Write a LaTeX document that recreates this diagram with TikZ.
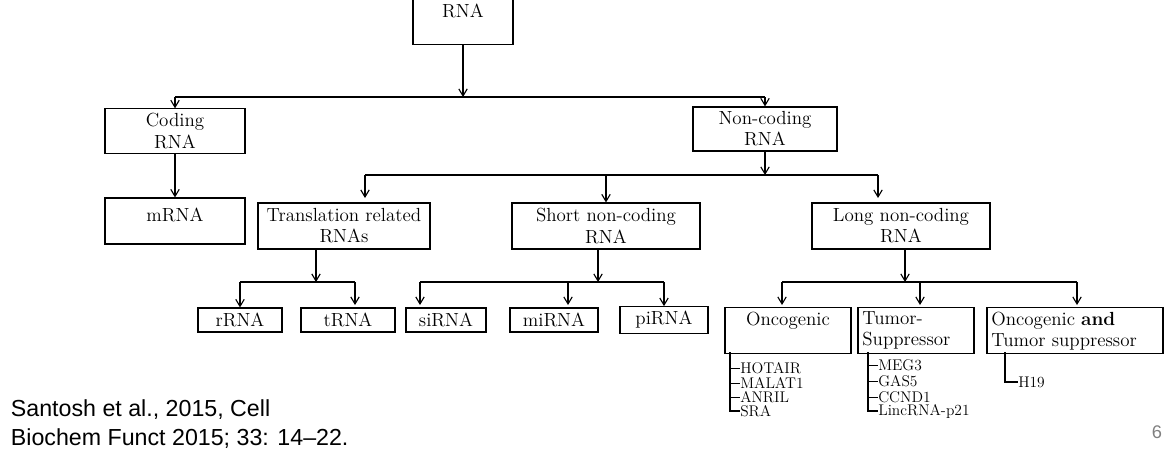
\documentclass[tikz,border=0pt]{standalone}
\usepackage{fontspec}
\newfontfamily\citefont{Liberation Sans}
\usetikzlibrary{arrows.meta}
\begin{document}
\begin{tikzpicture}[x=0.025cm,y=-0.025cm,
	box/.style={draw=black,thick,align=center,font=\fontsize{13.5}{15}\selectfont},
	item/.style={anchor=west,inner sep=0pt,font=\fontsize{11}{11}\selectfont},
	arr/.style={thick,-{Straight Barb[length=5pt,width=6pt]}},
	ln/.style={thick}]
	\useasboundingbox (0,0) rectangle (1170,450);

	\node[box,minimum width=2.5cm,minimum height=1.1cm,text depth=0.55cm] (rna) at (463,22) {RNA};
	\node[box,minimum width=3.5cm,minimum height=1.05cm] (cod) at (175,131) {Coding\\RNA};
	\node[box,minimum width=3.6cm,minimum height=1.05cm] (nc) at (765,129) {Non-coding\\RNA};
	\node[box,minimum width=3.5cm,minimum height=1.15cm,text depth=0.3cm] (mrna) at (175,221) {mRNA};
	\node[box,minimum width=4.3cm,minimum height=1.15cm] (tr) at (344,226) {Translation related\\RNAs};
	\node[box,minimum width=4.7cm,minimum height=1.15cm] (snc) at (606,226) {Short non-coding\\RNA};
	\node[box,minimum width=4.45cm,minimum height=1.15cm] (lnc) at (901,226) {Long non-coding\\RNA};
	\node[box,minimum width=2.1cm,minimum height=0.6cm] (rr) at (240,320) {rRNA};
	\node[box,minimum width=2.35cm,minimum height=0.6cm] (tt) at (348,320) {tRNA};
	\node[box,minimum width=2cm,minimum height=0.6cm] (si) at (446,320) {siRNA};
	\node[box,minimum width=2.2cm,minimum height=0.6cm] (mi) at (554,320) {miRNA};
	\node[box,minimum width=2.2cm,minimum height=0.6cm] (pi) at (664,320) {piRNA};
	\node[box,minimum width=3.15cm,minimum height=1.15cm,anchor=north] (onc) at (788,307) {};
	\node[font=\fontsize{13.5}{15}\selectfont,anchor=north] at (onc.north) {Oncogenic};
	\node[box,minimum width=2.9cm,minimum height=1.15cm,anchor=north] (ts) at (916,307) {};
	\node[font=\fontsize{13.5}{15}\selectfont,align=left,anchor=north west] at (ts.north west) {Tumor-\\Suppressor};
	\node[box,minimum width=4.4cm,minimum height=1.15cm,anchor=north] (both) at (1075,307) {};
	\node[font=\fontsize{13.5}{15}\selectfont,align=left,anchor=north west] at (both.north west) {Oncogenic \textbf{and}\\Tumor suppressor};

	% top level
	\coordinate (j0) at (463,97);
	\draw[arr] (rna) -- (j0);
	\draw[ln] (175,97) -- (765,97);
	\draw[arr] (175,97) -- (cod);
	\draw[arr] (765,97) -- (nc);
	\draw[arr] (cod) -- (mrna);

	% non-coding
	\coordinate (j1) at (765,175);
	\draw[arr] (nc) -- (j1);
	\draw[ln] (365,175) -- (878,175);
	\draw[arr] (365,175) -- (365,198);
	\draw[arr] (606,175) -- (snc);
	\draw[arr] (878,175) -- (878,198);

	% second level
	\draw[arr] (316,248) -- (316,282);
	\draw[ln] (240,282) -- (355,282);
	\draw[arr] (240,282) -- (rr);
	\draw[arr] (355,282) -- (355,305);
	\draw[arr] (598,248) -- (598,282);
	\draw[ln] (420,282) -- (664,282);
	\draw[arr] (420,282) -- (420,305);
	\draw[arr] (568,282) -- (568,305);
	\draw[arr] (664,282) -- (pi);
	\draw[arr] (905,248) -- (905,282);
	\draw[ln] (782,282) -- (1077,282);
	\draw[arr] (782,282) -- (782,305);
	\draw[arr] (920,282) -- (920,305);
	\draw[arr] (1077,282) -- (1077,305);

	% lists
	\foreach \t/\y in {HOTAIR/368,MALAT1/383,ANRIL/397,SRA/411}
		\node[item] (o\t) at (740,\y) {\t};
	\draw[ln] (730,352) -- (730,411) -- (oSRA.west);
	\foreach \t in {HOTAIR,MALAT1,ANRIL} \draw (730,0 |- o\t.west) -- (o\t.west);
	\foreach \t/\y in {MEG3/365,GAS5/381,CCND1/397,LincRNA-p21/411}
		\node[item] (t\t) at (878,\y) {\t};
	\draw[ln] (868,352) -- (868,411) -- (tLincRNA-p21.west);
	\foreach \t in {MEG3,GAS5,CCND1} \draw (868,0 |- t\t.west) -- (t\t.west);
	\node[item] (h19) at (1018,382) {H19};
	\draw[ln] (1005,352) -- (1005,382) -- (h19.west);

	% citation
	\node[anchor=west,align=left,font=\citefont\fontsize{16.5}{21}\selectfont] (cite) at (6,424) {Santosh et al., 2015, Cell\\Biochem Funct 2015; 33: 14\textendash22.};
	\node[font=\citefont\fontsize{13}{13}\selectfont,text=gray] (pg) at (1157,432) {6};
\end{tikzpicture}
\end{document}
